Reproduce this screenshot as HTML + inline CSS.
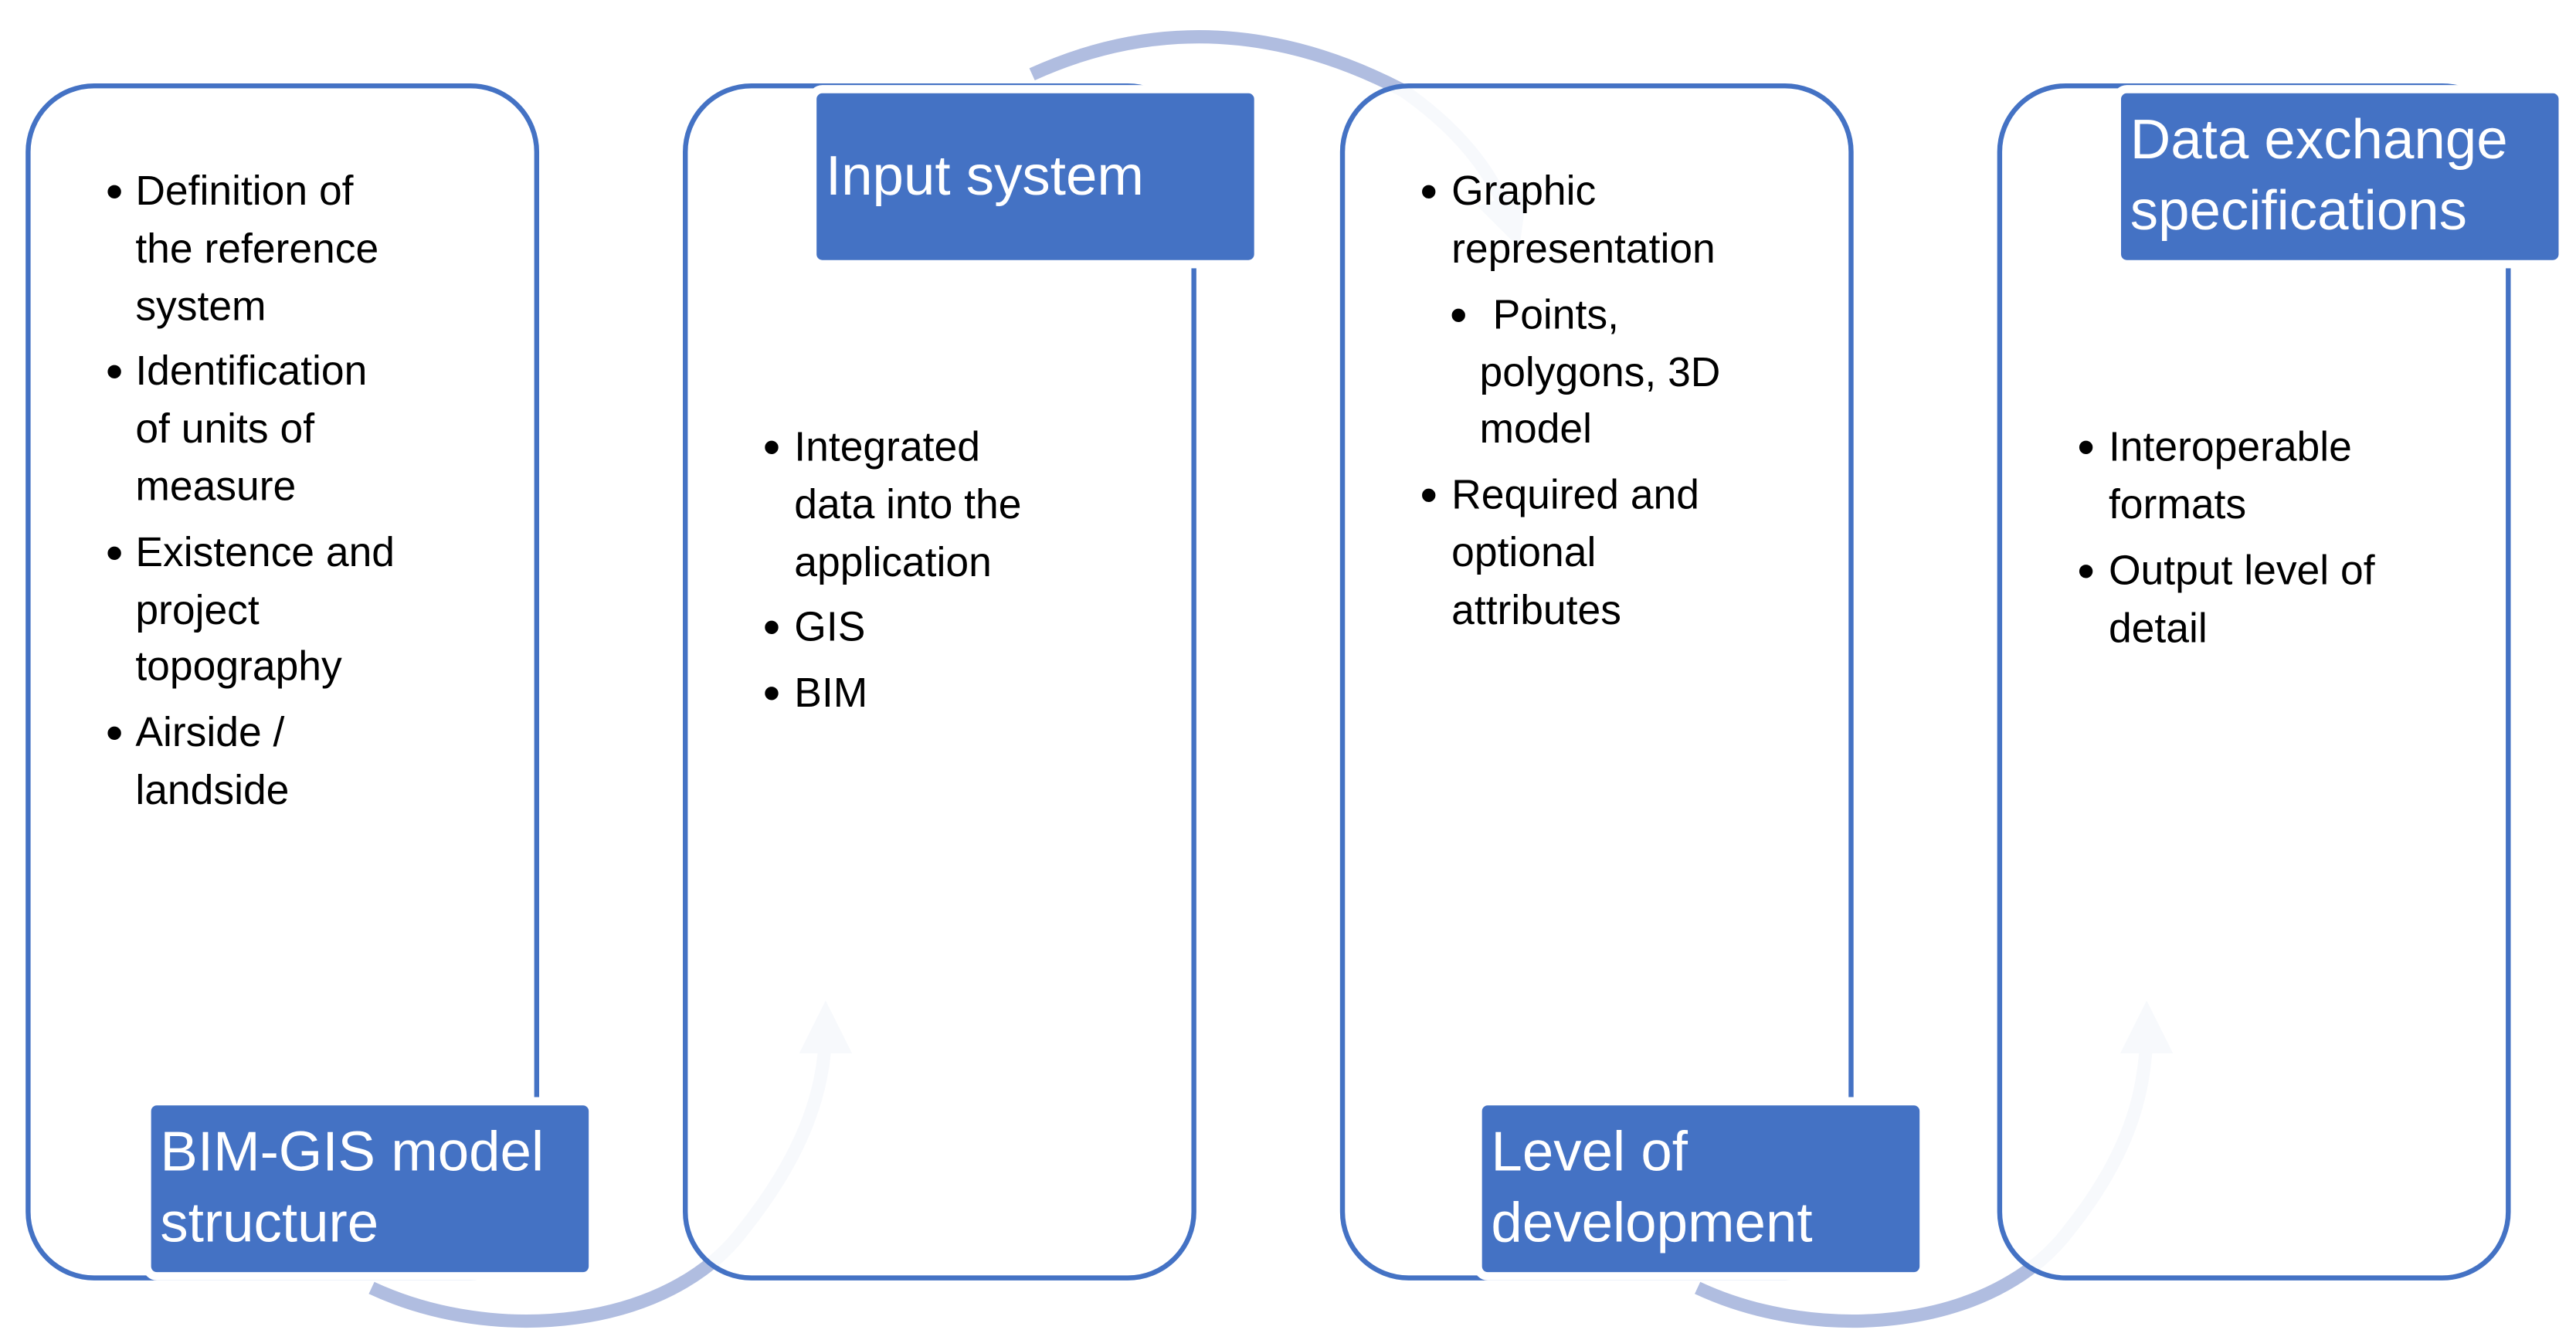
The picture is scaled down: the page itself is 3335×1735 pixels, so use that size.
<!DOCTYPE html>
<html><head><meta charset="utf-8"><style>
html,body{margin:0;padding:0;background:#fff}
svg{display:block}
text{font-family:"Liberation Sans",sans-serif}
.b{font-size:25px;fill:#000}
.d{font-size:30px;fill:#000}
.l{font-size:34px;fill:#fff}
</style></head><body>
<svg width="3335" height="1735" viewBox="0 0 1560 811.6" xmlns="http://www.w3.org/2000/svg">
<defs>
<marker id="ah" markerWidth="4" markerHeight="4" refX="2" refY="2" orient="auto" markerUnits="strokeWidth">
<path d="M0,0 L4,2 L0,4 z" fill="#b0bde0"/></marker>
</defs>
<g fill="none" stroke="#b0bde0" stroke-width="8">
<path d="M625,45 Q735,-5 850,55 Q900,90 915,135" marker-end="url(#ah)"/>
<path d="M225,780 C300,815 405,805 450,745 C490,695 500,655 500,622" marker-end="url(#ah)"/>
<path d="M1028,780 C1103,815 1208,805 1253,745 C1293,695 1300,655 1300,622" marker-end="url(#ah)"/>
</g>
<g fill="#fff" fill-opacity="0.9" stroke="#4472c4" stroke-width="3">
<rect x="17" y="52" width="308" height="722" rx="40"/>
<rect x="415" y="52" width="308" height="722" rx="40"/>
<rect x="813" y="52" width="308" height="722" rx="40"/>
<rect x="1211" y="52" width="308" height="722" rx="40"/>
</g>
<g fill="#4472c4" stroke="#fff" stroke-width="5">
<rect x="89" y="667" width="270" height="106" rx="6"/>
<rect x="492" y="54" width="270" height="106" rx="6"/>
<rect x="895" y="667" width="270" height="106" rx="6"/>
<rect x="1282" y="54" width="270" height="106" rx="6"/>
</g>
<text class="l" x="97" y="709">BIM-GIS model</text>
<text class="l" x="97" y="752">structure</text>
<text class="l" x="500" y="118">Input system</text>
<text class="l" x="903" y="709">Level of</text>
<text class="l" x="903" y="752">development</text>
<text class="l" x="1290" y="96">Data exchange</text>
<text class="l" x="1290" y="139">specifications</text>
<text class="d" x="64" y="126">•</text><text class="b" x="82" y="124">Definition of</text>
<text class="b" x="82" y="159">the reference</text>
<text class="b" x="82" y="194">system</text>
<text class="d" x="64" y="235">•</text><text class="b" x="82" y="233">Identification</text>
<text class="b" x="82" y="268">of units of</text>
<text class="b" x="82" y="303">measure</text>
<text class="d" x="64" y="345">•</text><text class="b" x="82" y="343">Existence and</text>
<text class="b" x="82" y="378">project</text>
<text class="b" x="82" y="412">topography</text>
<text class="d" x="64" y="454">•</text><text class="b" x="82" y="452">Airside /</text>
<text class="b" x="82" y="487">landside</text>
<text class="d" x="462" y="281">•</text><text class="b" x="481" y="279">Integrated</text>
<text class="b" x="481" y="314">data into the</text>
<text class="b" x="481" y="349">application</text>
<text class="d" x="462" y="390">•</text><text class="b" x="481" y="388">GIS</text>
<text class="d" x="462" y="430">•</text><text class="b" x="481" y="428">BIM</text>
<text class="d" x="860" y="126">•</text><text class="b" x="879" y="124">Graphic</text>
<text class="b" x="879" y="159">representation</text>
<text class="d" x="878" y="201">•</text><text class="b" x="904" y="199">Points,</text>
<text class="b" x="896" y="234">polygons, 3D</text>
<text class="b" x="896" y="268">model</text>
<text class="d" x="860" y="310">•</text><text class="b" x="879" y="308">Required and</text>
<text class="b" x="879" y="343">optional</text>
<text class="b" x="879" y="378">attributes</text>
<text class="d" x="1258" y="281">•</text><text class="b" x="1277" y="279">Interoperable</text>
<text class="b" x="1277" y="314">formats</text>
<text class="d" x="1258" y="356">•</text><text class="b" x="1277" y="354">Output level of</text>
<text class="b" x="1277" y="389">detail</text>
</svg>
</body></html>
